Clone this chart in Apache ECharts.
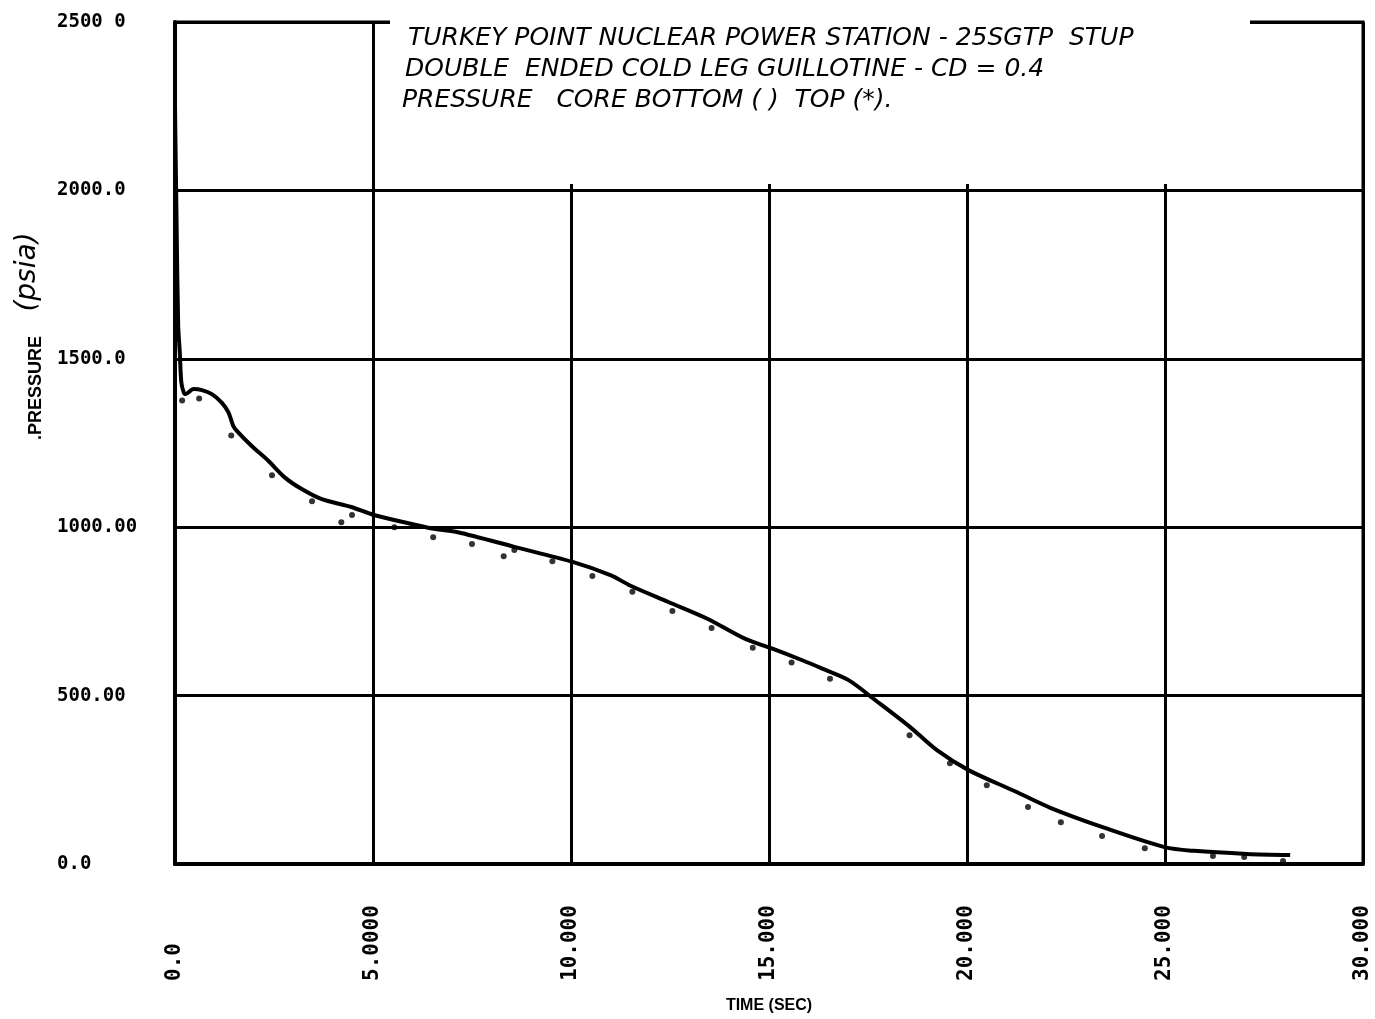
<!DOCTYPE html>
<html>
<head>
<meta charset="utf-8">
<title>Turkey Point - core pressure</title>
<script src="https://cdn.jsdelivr.net/npm/echarts@6/dist/echarts.min.js"></script>
<style>
    html, body { margin: 0; padding: 0; background: #fff; }
    #chart { width: 1375px; height: 1019px; }
</style>
</head>
<body>
<div id="chart"></div>
<script>
    // tick labels as printed by the plotter
    const xTickLabels = ['0.0', '5.0000', '10.000', '15.000', '20.000', '25.000', '30.000']
    const yTickLabels = ['0.0', '500.00', '1000.00', '1500.0', '2000.0', '2500 0']

    const titleLines = [
        'TURKEY POINT NUCLEAR POWER STATION - 25SGTP  STUP',
        'DOUBLE  ENDED COLD LEG GUILLOTINE - CD = 0.4',
        'PRESSURE   CORE BOTTOM ( )  TOP (*).'
    ]

    // core bottom pressure, solid curve  [time s, psia]
    const bottomTime = [0, 0.04, 0.08, 0.12, 0.16, 0.22, 0.26, 0.47, 0.68, 0.93, 1.18, 1.35, 1.47, 1.56,
        1.93, 2.35, 2.77, 3.19, 3.69, 4.45, 5.0, 5.7, 6.54, 7.14, 8.59, 10.04, 11.01, 11.49, 12.46,
        13.43, 14.39, 15.07, 15.84, 16.33, 17.01, 17.68, 18.55, 19.24, 20.05, 21.21, 22.12, 23.48,
        24.99, 25.73, 27.07, 28.16]
    const bottomPressure = [2250, 1900, 1600, 1520, 1430, 1400, 1395, 1410, 1407, 1395, 1370, 1341, 1301, 1286,
        1242, 1198, 1148, 1114, 1084, 1060, 1037, 1017, 995, 985, 941, 897, 857, 827, 778,
        729, 669, 640, 605, 581, 546, 487, 408, 338, 278, 216, 166, 107,
        50, 39, 30, 27]

    // core top pressure, dots
    const topTime = [0.18, 0.61, 1.42, 2.45, 3.46, 4.2, 4.47, 5.54, 6.52, 7.5, 8.3, 8.57, 9.53, 10.54,
        11.55, 12.56, 13.55, 14.59, 15.57, 16.54, 18.55, 19.57, 20.5, 21.54, 22.37, 23.41, 24.49,
        26.21, 27.0, 27.98]
    const topPressure = [1376, 1382, 1272, 1154, 1077, 1015, 1036, 1000, 970, 950, 914, 932, 899, 855,
        808, 751, 701, 642, 598, 550, 382, 299, 234, 169, 124, 83, 47,
        24, 21, 9]

    const mChart = echarts.init(document.getElementById('chart'))

    const bottomData = bottomTime.map((t, i) => [t, bottomPressure[i]])
    const topData = topTime.map((t, i) => [t, topPressure[i]])

    const monoFont = '"DejaVu Sans Mono", monospace'
    const handFont = '"DejaVu Sans", sans-serif'

    // title written by hand over the top of the grid
    const titleTexts = titleLines.map((line, i) => ({
        type: 'text',
        z: 101,
        x: 408 - i * 3,
        y: 26 + i * 31,
        style: {
            text: line,
            fill: '#000',
            font: 'italic 25px ' + handFont,
            textAlign: 'left',
            textVerticalAlign: 'top'
        }
    }))

    const option = {
        backgroundColor: '#ffffff',
        animation: false,
        grid: {
            left: 175,
            right: 12,
            top: 22,
            bottom: 148,
            show: true,
            borderColor: '#000',
            borderWidth: 3
        },
        // x 轴
        xAxis: {
            type: 'value',
            min: 0,
            max: 30,
            interval: 5,
            name: 'TIME (SEC)',
            nameLocation: 'middle',
            nameGap: 134,
            nameTextStyle: {
                color: '#000',
                fontFamily: '"Liberation Sans", Arial, sans-serif',
                fontWeight: 'bold',
                fontSize: 16
            },
            axisLine: { show: true, lineStyle: { color: '#000', width: 4 } },
            axisTick: { show: false },
            axisLabel: {
                rotate: 90,
                align: 'left',
                verticalAlign: 'middle',
                margin: 117,
                color: '#000',
                fontFamily: monoFont,
                fontWeight: 'bold',
                fontSize: 21,
                showMinLabel: true,
                showMaxLabel: true,
                formatter: (v) => xTickLabels[Math.round(v / 5)]
            },
            splitLine: { show: true, lineStyle: { color: '#000', width: 3 } }
        },
        // y 轴
        yAxis: {
            type: 'value',
            min: 0,
            max: 2500,
            interval: 500,
            axisLine: { show: true, lineStyle: { color: '#000', width: 4 } },
            axisTick: { show: false },
            axisLabel: {
                align: 'left',
                margin: 118,
                color: '#000',
                fontFamily: monoFont,
                fontWeight: 'bold',
                fontSize: 19,
                formatter: (v) => yTickLabels[Math.round(v / 500)]
            },
            splitLine: { show: true, lineStyle: { color: '#000', width: 3 } }
        },
        graphic: [
            // blank patch where the title was written over the grid
            {
                type: 'rect',
                z: 100,
                shape: { x: 390, y: 0, width: 860, height: 184 },
                style: { fill: '#ffffff' }
            },
            ...titleTexts,
            // y axis name
            {
                type: 'text',
                z: 101,
                x: 36,
                y: 388,
                rotation: Math.PI / 2,
                style: {
                    text: '.PRESSURE',
                    fill: '#000',
                    font: 'bold 18px "Liberation Sans", Arial, sans-serif',
                    textAlign: 'center',
                    textVerticalAlign: 'middle'
                }
            },
            {
                type: 'text',
                z: 101,
                x: 28,
                y: 272,
                rotation: Math.PI / 2,
                style: {
                    text: '(psia)',
                    fill: '#000',
                    font: 'italic 28px ' + handFont,
                    textAlign: 'center',
                    textVerticalAlign: 'middle'
                }
            }
        ],
        // 图表配置
        series: [{
            name: 'Core bottom',
            type: 'line',
            data: bottomData,
            smooth: 0.3,
            showSymbol: false,
            lineStyle: { color: '#000', width: 4 },
            z: 5
        }, {
            name: 'Core top',
            type: 'scatter',
            data: topData,
            symbol: 'circle',
            symbolSize: 6,
            itemStyle: { color: '#000' },
            z: 6
        }]
    }
    mChart.setOption(option)
    window.addEventListener('resize', function() {
        mChart.resize();
    });
</script>
</body>
</html>
